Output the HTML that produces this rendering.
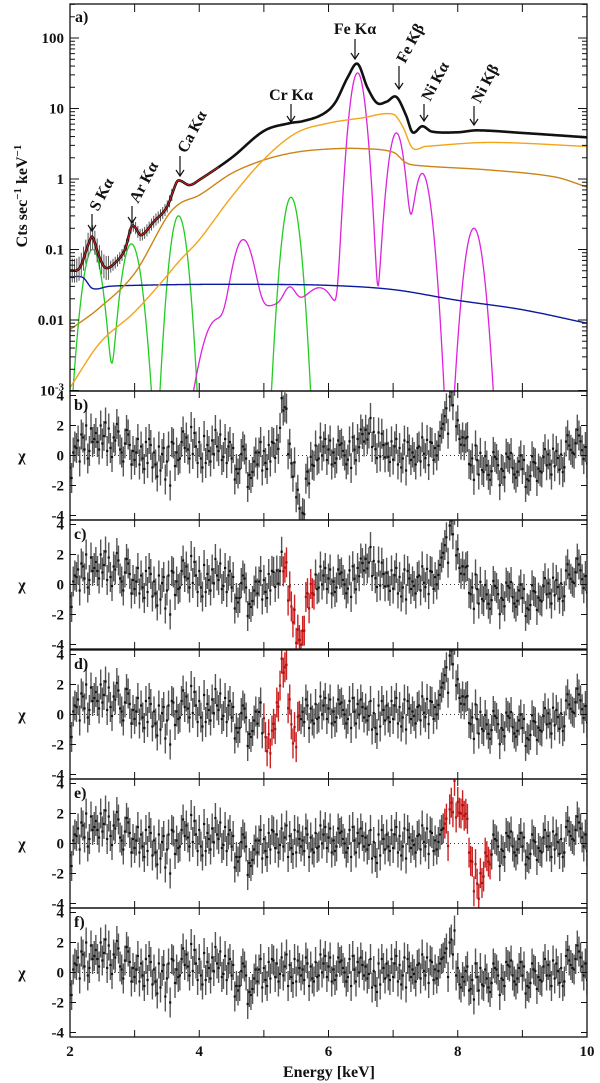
<!DOCTYPE html>
<html><head><meta charset="utf-8">
<style>
html,body{margin:0;padding:0;background:#fff;}
svg{display:block;font-family:"Liberation Serif",serif;}
.tl{font-size:15px;font-weight:bold;fill:#111;}
.lab{font-size:16px;font-weight:bold;fill:#111;}
</style></head>
<body>
<svg id="chart" width="600" height="1083" viewBox="0 0 600 1083" xmlns="http://www.w3.org/2000/svg">
<defs>
<clipPath id="clipMain"><rect x="70" y="4" width="517" height="387"/></clipPath>
</defs>
<g id="mainG"></g>
<g id="resG"></g>
<g id="axG"></g>
</svg>
<script>
// ---------- data ----------
const totalE = [2.0,2.15,2.3,2.35,2.45,2.55,2.7,2.85,2.95,3.0,3.1,3.3,3.5,3.65,3.7,3.85,4.0,4.5,5.0,5.4,5.6,5.9,6.1,6.3,6.45,6.6,6.75,6.9,7.05,7.2,7.3,7.45,7.6,8.0,8.3,9.0,10.0];
const totalV = [0.05,0.055,0.13,0.15,0.08,0.055,0.065,0.1,0.21,0.21,0.16,0.25,0.4,0.9,0.95,0.82,0.97,2.0,4.8,6.2,6.6,8.2,12,28,43,20,12,12.5,14.6,8,4.6,5.6,4.7,4.6,4.9,4.5,3.9];
const orangeE = [2.0,2.46,2.98,3.4,3.7,4.0,4.5,5.0,5.5,6.0,6.5,7.0,7.15,7.3,7.5,8.5,10.0];
const orangeV = [0.0011,0.0047,0.0125,0.033,0.07,0.137,0.56,1.9,4.5,6.2,7.3,8.3,5.5,2.75,2.9,3.3,2.9];
const brownE = [2.0,2.46,3.0,3.5,3.7,4.0,4.5,5.0,5.5,6.0,6.5,7.0,7.2,7.4,8.5,9.5,10.0];
const brownV = [0.0073,0.015,0.046,0.29,0.45,0.59,1.2,1.86,2.4,2.66,2.7,2.4,1.7,1.55,1.34,1.07,0.77];
const blueE = [2.0,2.2,2.35,2.6,3.0,4.0,5.0,6.0,7.0,8.0,9.0,10.0];
const blueV = [0.041,0.04,0.028,0.03,0.031,0.032,0.032,0.031,0.027,0.019,0.014,0.009];
const greenCenters = [2.35,2.95,3.68,5.42];
const greenAmps = [0.1,0.12,0.3,0.55];
const greenSigmas = [0.1,0.1,0.085,0.085];
const magCenters = [4.25,4.68,5.3,5.4,5.9,6.45,7.05,7.45,8.25];
const magAmps = [0.008,0.13,0.017,0.012,0.02,32,4.5,1.2,0.2];
const magSigmas = [0.15,0.12,0.5,0.08,0.2,0.08,0.085,0.09,0.092];
const xTicks = [2,4,6,8,10];
const yTicksMain = [100,10,1,0.1,0.01,0.001];
const yTickLabelsMain = ["100","10","1","0.1","0.01","10-3"];
const resTicks = [4,2,0,-2,-4];
// residuals (base pattern at E=2.0+0.1i, +0.025, +0.05, +0.075)
const residA = [-0.8,0.5,1.2,0.3,1.5,0.8,1.8,1.0,0.2,1.4,-0.3,0.6,-0.5,0.2,-1.0,-0.4,0.8,-0.2,1.2,0.1,0.9,-0.5,1.0,0.3,1.1,-0.2,-1.2,0.4,-1.5,-0.6,0.3,-0.4,0.6,-0.2,0.5,-0.6,0.2,-0.9,0.7,0.0,0.4,-0.5,0.8,-0.3,0.2,1.0,-0.4,0.1,-0.8,0.6,-0.3,0.5,-1.0,0.2,0.6,-0.2,0.7,0.1,1.3,2.2,0.3,-0.6,-1.1,-0.3,-0.9,-1.3,0.2,-0.5,0.4,-0.8,-0.2,-1.0,0.1,-0.6,0.5,-0.4,0.3,1.5,0.2,1.0,-0.5];
const residB = [0.2,-0.4,2.0,0.9,0.4,2.2,-0.1,1.6,0.8,-0.6,1.1,-0.9,0.7,-1.4,0.5,-2.0,0.2,1.6,-0.2,0.6,-0.8,0.3,1.7,-0.3,0.6,-1.6,0.1,-2.1,-0.4,0.9,-0.9,0.8,-0.1,1.2,-0.7,0.3,1.0,-0.4,-0.2,1.1,-0.6,1.0,0.0,-0.9,0.7,-0.2,0.9,-1.3,0.3,-0.5,1.1,-0.2,0.4,-0.6,1.2,-0.7,0.2,0.9,-0.3,2.8,-1.0,0.4,-1.8,0.3,-0.4,0.6,-1.5,0.7,-0.2,0.3,-1.4,0.6,-0.3,0.9,-0.9,0.1,-0.6,0.5,1.8,-0.2];
const residC = [-1.5,1.0,0.4,1.8,0.9,1.3,0.5,2.1,-0.4,0.7,0.2,-0.2,1.1,-0.6,0.1,0.6,-0.7,0.9,0.4,1.5,-0.2,0.7,0.1,1.4,-0.5,0.5,-0.9,-0.2,-1.1,0.2,-0.5,0.9,-0.6,0.4,-0.3,0.8,-0.5,0.4,-0.3,0.6,1.0,-0.2,0.3,0.9,-0.6,0.5,-0.1,-0.9,0.9,-0.2,0.6,-0.8,0.9,-0.1,-0.4,1.0,-0.5,0.6,1.6,1.2,-0.8,0.1,-0.5,-1.2,0.2,-0.7,-0.2,-0.9,0.8,-0.4,0.4,-0.7,-1.1,0.4,-0.2,0.6,-0.9,0.8,0.9,0.4];
const residD = [0.6,1.4,-0.2,1.1,2.0,0.3,1.2,0.4,1.7,0.3,-0.6,0.9,-0.8,0.6,-1.6,0.9,-0.3,0.5,1.9,-0.5,1.3,-0.4,0.6,-0.1,0.9,-0.9,0.6,-1.3,0.2,-1.0,0.7,-0.3,1.0,-0.9,0.9,-0.2,0.6,-0.6,1.2,-0.3,0.2,0.7,-0.6,1.1,0.0,0.4,-1.0,0.6,-0.4,0.9,-0.6,1.0,-0.3,0.5,0.1,0.8,-0.4,1.0,2.0,-0.2,-0.3,-1.2,0.6,-0.8,-1.0,0.3,-0.4,0.5,-0.6,0.7,-0.9,0.2,-0.5,-0.2,0.8,-0.7,1.1,0.3,1.4,0.6];
const panelNames = ["b","c","d","e","f"];
// features per panel: [energy, amplitude, width]
const featB = [[5.3,3.2,0.05],[5.58,-4.2,0.07],[6.65,1.6,0.12],[7.95,2.2,0.15],[9.0,-0.7,0.4]];
const featC = [[5.28,1.2,0.05],[5.55,-4.0,0.08],[6.65,1.6,0.12],[7.95,2.2,0.15],[9.0,-0.7,0.4]];
const featD = [[5.1,-2.2,0.06],[5.3,3.0,0.06],[5.48,-1.8,0.04],[7.95,2.2,0.15],[9.0,-0.7,0.4]];
const featE = [[8.05,3.0,0.08],[8.32,-2.5,0.07]];
const featF = [];
const redRanges = [[0,0],[5.28,5.8],[5.0,5.55],[7.8,8.5],[0,0]];

// ---------- scales ----------
const X0=70, X1=587, PT=4, PB=391;
const resTops=[391,520,650,779,908], RH=129;
function xS(e){return X0+(e-2)*(X1-X0)/8;}
function yMain(v){return 179-Math.log10(v)*70.5;}
function yRes(p,v){return resTops[p]+64.5-v*15;}
const NS="http://www.w3.org/2000/svg";
function mk(tag,attrs,parent){const el=document.createElementNS(NS,tag);for(const k in attrs)el.setAttribute(k,attrs[k]);parent.appendChild(el);return el;}
function interpLog(Es,Vs,e){
  const n=Es.length; if(e<=Es[0])return Vs[0]; if(e>=Es[n-1])return Vs[n-1];
  let i=0; while(Es[i+1]<e)i++;
  const L=Vs.map(v=>Math.log10(v));
  const m=j=>{const a=Math.max(0,j-1),b=Math.min(n-1,j+1);return (L[b]-L[a])/(Es[b]-Es[a]);};
  const h=Es[i+1]-Es[i], t=(e-Es[i])/h;
  const h00=2*t*t*t-3*t*t+1,h10=t*t*t-2*t*t+t,h01=-2*t*t*t+3*t*t,h11=t*t*t-t*t;
  return Math.pow(10,h00*L[i]+h10*h*m(i)+h01*L[i+1]+h11*h*m(i+1));
}
function gsum(C,A,S,e){let s=0;for(let i=0;i<C.length;i++)s+=A[i]*Math.exp(-Math.pow(e-C[i],2)/(2*S[i]*S[i]));return s;}

const mainG=document.getElementById('mainG');
const resG=document.getElementById('resG');
const axG=document.getElementById('axG');
const clipped=mk('g',{'clip-path':'url(#clipMain)'},mainG);



function curve(fn,color,w,name,emin,emax){
  let d=''; const step=0.01;
  for(let e=emin;e<=emax+1e-9;e+=step){
    let v=Math.max(fn(e),1e-5);
    let y=Math.min(yMain(v),PB+5);
    d+=(d?'L':'M')+xS(e).toFixed(2)+','+y.toFixed(2);
  }
  const p=mk('path',{d:d,fill:'none',stroke:color,'stroke-width':w},clipped);
  
  
}
curve(e=>gsum(greenCenters,greenAmps,greenSigmas,e),'#22cc22',1.3,'green-gaussian-lines',2,10);
curve(e=>gsum(magCenters,magAmps,magSigmas,e),'#dd22dd',1.3,'magenta-fe-ni-lines',2,10);
curve(e=>interpLog(blueE,blueV,e),'#0a1aa0',1.4,'blue-continuum',2,10);
curve(e=>interpLog(brownE,brownV,e),'#cc8418',1.4,'brown-continuum',2,10);
curve(e=>interpLog(orangeE,orangeV,e),'#f5a418',1.4,'orange-continuum',2,10);
for(let e=2.0;e<3.6;e+=0.035){
  const v=interpLog(totalE,totalV,e);
  const y=yMain(v);
  const eb=e<2.6?12:6;
  const b=mk('line',{x1:xS(e),x2:xS(e),y1:y-eb,y2:y+eb,stroke:'#555','stroke-width':1},clipped);
  
  
}
curve(e=>interpLog(totalE,totalV,e),'#111',2.6,'data-points',2,10);
curve(e=>interpLog(totalE,totalV,e),'#d42020',1,'total-model',2,4.3);

const lines=[
 {t:'S Kα',x:92,y1:214,y2:231,rot:true},
 {t:'Ar Kα',x:132,y1:206,y2:223,rot:true},
 {t:'Ca Kα',x:180,y1:156,y2:176,rot:true},
 {t:'Fe Kβ',x:399,y1:66,y2:89,rot:true},
 {t:'Ni Kα',x:424,y1:104,y2:121,rot:true},
 {t:'Ni Kβ',x:474,y1:106,y2:125,rot:true},
 {t:'Cr Kα',x:291,y1:104,y2:122,rot:false,ty:100},
 {t:'Fe Kα',x:355,y1:39,y2:59,rot:false,ty:34}
];
lines.forEach(L=>{
  const g=mk('g',{},mainG);
  
  
  mk('line',{x1:L.x,x2:L.x,y1:L.y1,y2:L.y2,stroke:'#111','stroke-width':1.2},g);
  mk('path',{d:`M${L.x-4},${L.y2-6}L${L.x},${L.y2}L${L.x+4},${L.y2-6}`,fill:'none',stroke:'#111','stroke-width':1.2},g);
  let tx;
  if(L.rot){tx=mk('text',{x:L.x+6,y:L.y1-2,class:'lab',transform:`rotate(-62 ${L.x+6} ${L.y1-2})`},g);}
  else{tx=mk('text',{x:L.x,y:L.ty,class:'lab','text-anchor':'middle'},g);}
  tx.textContent=L.t;
});
const aLab=mk('text',{x:75,y:22,class:'lab'},mainG);aLab.textContent='a)';



// ---------- residual panels ----------
const feats=[featB,featC,featD,featE,featF];
for(let p=0;p<5;p++){
  const g=mk('g',{},resG);
  
  
  const cid='clipR'+p;
  const cp=mk('clipPath',{id:cid},g);mk('rect',{x:X0,y:resTops[p],width:X1-X0,height:RH},cp);
  const gg=mk('g',{'clip-path':`url(#${cid})`},g);
  mk('line',{x1:X0,x2:X1,y1:yRes(p,0),y2:yRes(p,0),stroke:'#333','stroke-width':1,'stroke-dasharray':'1,3'},gg);
  const pts=[];
  residA.forEach((v,i)=>pts.push([2+0.1*i,v]));
  residC.forEach((v,i)=>pts.push([2.025+0.1*i,v]));
  residB.forEach((v,i)=>pts.push([2.05+0.1*i,v]));
  residD.forEach((v,i)=>pts.push([2.075+0.1*i,v]));
  pts.forEach(([e,v])=>{
    let val=v;
    feats[p].forEach(f=>{val+=f[1]*Math.exp(-Math.pow(e-f[0],2)/(2*f[2]*f[2]));});
    const rr=redRanges[p];
    const red=e>=rr[0]&&e<=rr[1]&&rr[1]>0;
    const x=xS(e), y=yRes(p,val);
    const b=mk('line',{x1:x,x2:x,y1:y-15,y2:y+15,stroke:red?'#cc2222':'#555','stroke-width':1.4},gg);
    
    
    const dt=mk('rect',{x:x-1.1,y:y-1.1,width:2.2,height:2.2,fill:red?'#aa1111':'#111'},gg);
    
    
  });
  const pl=mk('text',{x:74,y:resTops[p]+19,class:'lab'},g);pl.textContent=panelNames[p]+')';
  
  
  const yl=mk('text',{x:22,y:resTops[p]+70,class:'lab','text-anchor':'middle'},g);yl.textContent='χ';
  
  
  resTicks.forEach(t=>{
    const y=yRes(p,t);
    mk('line',{x1:X0,x2:X0+6,y1:y,y2:y,stroke:'#111','stroke-width':1},g);
    mk('line',{x1:X1-6,x2:X1,y1:y,y2:y,stroke:'#111','stroke-width':1},g);
    const tl=mk('text',{x:64,y:y+5,class:'tl','text-anchor':'end'},g);tl.textContent=String(t);
    
    
  });
  for(let e=2;e<=10;e++){
    mk('line',{x1:xS(e),x2:xS(e),y1:resTops[p],y2:resTops[p]+7,stroke:'#111','stroke-width':1},g);
    mk('line',{x1:xS(e),x2:xS(e),y1:resTops[p]+RH-7,y2:resTops[p]+RH,stroke:'#111','stroke-width':1},g);
  }
  const fr=mk('rect',{x:X0,y:resTops[p],width:X1-X0,height:RH,fill:'none',stroke:'#111','stroke-width':1.3},g);
  
  
}

// ---------- main axes ----------
const fm=mk('rect',{x:X0,y:PT,width:X1-X0,height:PB-PT,fill:'none',stroke:'#111','stroke-width':1.3},axG);


for(let e=2;e<=10;e++){
  mk('line',{x1:xS(e),x2:xS(e),y1:PT,y2:PT+8,stroke:'#111','stroke-width':1},axG);
  mk('line',{x1:xS(e),x2:xS(e),y1:PB-8,y2:PB,stroke:'#111','stroke-width':1},axG);
}
for(let dec=-3;dec<=2;dec++){
  for(let m=1;m<=9;m++){
    const v=m*Math.pow(10,dec); const y=yMain(v);
    if(y<PT||y>PB)continue;
    const len=m===1?9:5;
    mk('line',{x1:X0,x2:X0+len,y1:y,y2:y,stroke:'#111','stroke-width':1},axG);
    mk('line',{x1:X1-len,x2:X1,y1:y,y2:y,stroke:'#111','stroke-width':1},axG);
  }
}
yTicksMain.forEach((v,i)=>{
  const y=yMain(v);
  const t=mk('text',{x:64,y:y+5,class:'tl','text-anchor':'end'},axG);
  
  
  if(yTickLabelsMain[i]==='10-3'){t.innerHTML='10<tspan dy="-5" font-size="11">-3</tspan>';}
  else t.textContent=yTickLabelsMain[i];
});
const yt=mk('text',{x:0,y:0,class:'lab',transform:'translate(27,196) rotate(-90)','text-anchor':'middle','font-size':'17'},axG);
yt.innerHTML='Cts sec<tspan dy="-6" font-size="11">−1</tspan><tspan dy="6"> keV</tspan><tspan dy="-6" font-size="11">−1</tspan>';


xTicks.forEach(e=>{
  const t=mk('text',{x:xS(e),y:1056,class:'tl','text-anchor':'middle'},axG);t.textContent=String(e);
  
  
});
const xt=mk('text',{x:329,y:1077,class:'lab','text-anchor':'middle'},axG);xt.textContent='Energy [keV]';


</script>
</body></html>
